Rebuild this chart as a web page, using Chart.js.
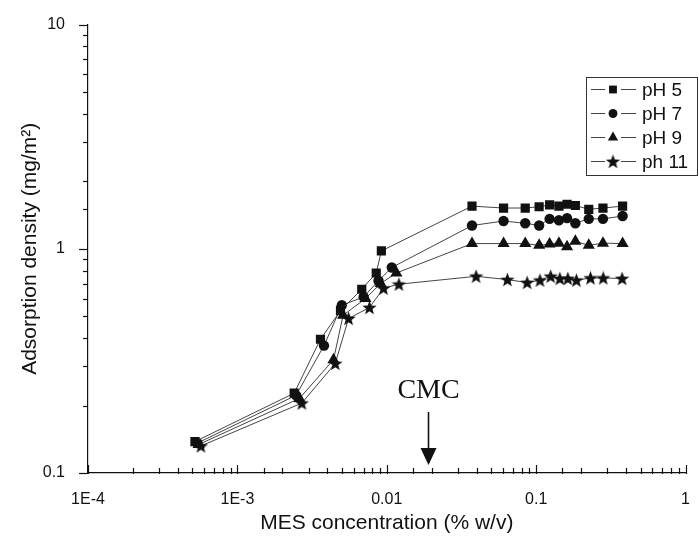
<!DOCTYPE html>
<html>
<head>
<meta charset="utf-8">
<script src="https://cdn.jsdelivr.net/npm/chart.js@4.4.1/dist/chart.umd.min.js"></script>
<style>
  html, body { margin: 0; padding: 0; background: #fff; }
  #wrap { width: 699px; height: 542px; }
</style>
</head>
<body>
<div id="wrap"><canvas id="adsChart" width="699" height="542"></canvas></div>
<script>
const seriesNames = ['pH 5', 'pH 7', 'pH 9', 'ph 11'];

// MES concentration (% w/v) and adsorption density (mg/m2)
const ph5X = [0.00052, 0.0024, 0.0036, 0.0049, 0.0068, 0.0085, 0.0092, 0.0372, 0.0605, 0.0845, 0.1047, 0.123, 0.142, 0.161, 0.183, 0.225, 0.280, 0.379];
const ph5Y = [0.138, 0.227, 0.395, 0.53, 0.66, 0.78, 0.978, 1.55, 1.52, 1.52, 1.54, 1.57, 1.55, 1.58, 1.56, 1.50, 1.52, 1.55];

const ph7X = [0.00054, 0.00247, 0.0038, 0.0050, 0.0070, 0.0088, 0.0108, 0.0372, 0.0605, 0.0845, 0.1047, 0.123, 0.142, 0.161, 0.183, 0.225, 0.280, 0.379];
const ph7Y = [0.136, 0.222, 0.37, 0.56, 0.61, 0.72, 0.825, 1.27, 1.33, 1.30, 1.27, 1.36, 1.34, 1.37, 1.30, 1.36, 1.36, 1.40];

const ph9X = [0.00055, 0.0026, 0.0044, 0.0051, 0.0072, 0.0091, 0.0116, 0.0372, 0.0605, 0.0845, 0.1047, 0.123, 0.142, 0.161, 0.183, 0.225, 0.280, 0.379];
const ph9Y = [0.134, 0.215, 0.32, 0.505, 0.60, 0.70, 0.78, 1.055, 1.055, 1.055, 1.036, 1.05, 1.06, 1.02, 1.08, 1.036, 1.06, 1.055];

const ph11X = [0.00057, 0.0027, 0.00452, 0.00555, 0.00766, 0.0095, 0.01206, 0.0396, 0.0642, 0.087, 0.106, 0.125, 0.144, 0.163, 0.186, 0.231, 0.281, 0.376];
const ph11Y = [0.132, 0.205, 0.308, 0.489, 0.547, 0.667, 0.695, 0.754, 0.729, 0.707, 0.724, 0.754, 0.737, 0.737, 0.724, 0.741, 0.741, 0.737];

const xTickValues = [1e-4, 1e-3, 0.01, 0.1, 1];
const xTickLabels = ['1E-4', '1E-3', '0.01', '0.1', '1'];
const yTickValues = [0.1, 1, 10];
const yTickLabels = ['0.1', '1', '10'];

const cmcValue = 0.019;      // x of the CMC arrow
const cmcTextY = 0.216;      // baseline of "CMC"
const cmcArrowTop = 0.187;
const cmcArrowTip = 0.1085;

const FONT = '"Liberation Sans", Arial, Helvetica, sans-serif';
const INK = '#111';

function zip(xs, ys) { return xs.map((x, i) => ({ x: x, y: ys[i] })); }
function isDecade(v) { const l = Math.log10(v); return Math.abs(l - Math.round(l)) < 1e-6; }
function labelFor(v, vals, labels) {
    const i = vals.findIndex(t => Math.abs(Math.log10(t) - Math.log10(v)) < 1e-6);
    return i >= 0 ? labels[i] : '';
}

// filled five point star used as marker
function makeStar(size) {
    const c = document.createElement('canvas');
    c.width = size; c.height = size;
    const g = c.getContext('2d');
    const cx = size / 2, cy = size / 2 + 0.6, ro = size / 2, ri = size / 2 * 0.42;
    g.beginPath();
    for (let k = 0; k < 10; k++) {
        const r = k % 2 === 0 ? ro : ri;
        const a = -Math.PI / 2 + k * Math.PI / 5;
        const px = cx + r * Math.cos(a), py = cy + r * Math.sin(a);
        if (k === 0) g.moveTo(px, py); else g.lineTo(px, py);
    }
    g.closePath();
    g.fillStyle = INK;
    g.fill();
    return c;
}
const starMark = makeStar(15);

function series(label, xs, ys, style, radius) {
    return {
        label: label,
        data: zip(xs, ys),
        showLine: true,
        borderColor: '#444',
        borderWidth: 1,
        pointStyle: style,
        pointRadius: radius,
        pointHoverRadius: radius,
        pointBackgroundColor: INK,
        pointBorderColor: INK,
        pointBorderWidth: 0
    };
}

const tickMarks = {
    id: 'tickMarks',
    afterDraw(chart) {
        const { ctx, scales: { x, y } } = chart;
        ctx.save();
        ctx.strokeStyle = INK;
        ctx.lineWidth = 1.2;
        x.ticks.forEach(t => {
            const px = Math.round(x.getPixelForValue(t.value)) + 0.5;
            const len = isDecade(t.value) ? 8 : 5;
            ctx.beginPath(); ctx.moveTo(px, x.top + 1); ctx.lineTo(px, x.top - len); ctx.stroke();
        });
        y.ticks.forEach(t => {
            const py = Math.round(y.getPixelForValue(t.value)) + 0.5;
            const len = isDecade(t.value) ? 9 : 5;
            ctx.beginPath(); ctx.moveTo(y.right, py); ctx.lineTo(y.right - len, py); ctx.stroke();
        });
        ctx.restore();
    }
};

const cmcNote = {
    id: 'cmcNote',
    afterDatasetsDraw(chart) {
        const { ctx, scales: { x, y } } = chart;
        const px = Math.round(x.getPixelForValue(cmcValue)) + 0.5;
        const top = y.getPixelForValue(cmcArrowTop);
        const tip = y.getPixelForValue(cmcArrowTip);
        ctx.save();
        ctx.fillStyle = INK;
        ctx.strokeStyle = INK;
        ctx.font = '28px "Liberation Serif", "Times New Roman", serif';
        ctx.textAlign = 'center';
        ctx.textBaseline = 'alphabetic';
        ctx.fillText('CMC', px, y.getPixelForValue(cmcTextY));
        ctx.lineWidth = 1.6;
        ctx.beginPath(); ctx.moveTo(px, top); ctx.lineTo(px, tip - 14); ctx.stroke();
        ctx.beginPath();
        ctx.moveTo(px - 8, tip - 17); ctx.lineTo(px + 8, tip - 17); ctx.lineTo(px, tip);
        ctx.closePath(); ctx.fill();
        ctx.restore();
    }
};

const boxLegend = {
    id: 'boxLegend',
    afterDraw(chart) {
        const ctx = chart.ctx;
        const left = 586, top = 77, w = 111, h = 98, row = 24;
        ctx.save();
        ctx.strokeStyle = '#333';
        ctx.lineWidth = 1;
        ctx.strokeRect(left + 0.5, top + 0.5, w, h);
        ctx.font = '19px ' + FONT;
        ctx.textBaseline = 'middle';
        ctx.textAlign = 'left';
        chart.data.datasets.forEach((ds, i) => {
            const cy = top + 12.5 + row * i;
            const mx = left + 27;
            ctx.strokeStyle = '#444';
            ctx.beginPath();
            ctx.moveTo(left + 5, cy); ctx.lineTo(mx - 8, cy);
            ctx.moveTo(mx + 8, cy); ctx.lineTo(left + 50, cy);
            ctx.stroke();
            ctx.fillStyle = INK;
            Chart.helpers.drawPoint(ctx, { pointStyle: ds.pointStyle, radius: ds.pointRadius * 0.85, rotation: 0, borderWidth: 0 }, mx, cy);
            ctx.fillStyle = INK;
            ctx.fillText(ds.label, left + 56, cy + 1);
        });
        ctx.restore();
    }
};

Chart.defaults.font.family = FONT;
Chart.defaults.color = INK;

const ctx = document.getElementById('adsChart').getContext('2d');
const chart = new Chart(ctx, {
    type: 'scatter',
    data: {
        datasets: [
            series(seriesNames[0], ph5X, ph5Y, 'rect', 6.5),
            series(seriesNames[1], ph7X, ph7Y, 'circle', 5.2),
            series(seriesNames[2], ph9X, ph9Y, 'triangle', 7),
            series(seriesNames[3], ph11X, ph11Y, starMark, 7)
        ]
    },
    options: {
        responsive: false,
        animation: false,
        layout: { padding: { top: 24, right: 10, left: 0, bottom: 0 } },
        plugins: { legend: { display: false }, tooltip: { enabled: false } },
        scales: {
            x: {
                type: 'logarithmic',
                position: 'bottom',
                min: 1e-4,
                max: 1,
                grid: { display: false },
                border: { display: true, color: INK, width: 1.2 },
                ticks: {
                    autoSkip: false,
                    maxRotation: 0,
                    padding: 9,
                    color: INK,
                    font: { size: 16 },
                    callback: v => labelFor(v, xTickValues, xTickLabels)
                },
                title: {
                    display: true,
                    text: 'MES concentration (% w/v)',
                    color: INK,
                    font: { size: 21 },
                    padding: { top: 0, bottom: 6 }
                },
                afterFit: s => { s.height = 69; }
            },
            y: {
                type: 'logarithmic',
                position: 'left',
                min: 0.1,
                max: 10,
                grid: { display: false },
                border: { display: true, color: INK, width: 1.2 },
                ticks: {
                    autoSkip: false,
                    padding: 15,
                    color: INK,
                    font: { size: 16 },
                    callback: v => labelFor(v, yTickValues, yTickLabels)
                },
                title: {
                    display: true,
                    text: 'Adsorption density (mg/m²)',
                    color: INK,
                    font: { size: 21 },
                    padding: { top: 18, bottom: 0 }
                },
                afterFit: s => { s.width = 88; }
            }
        }
    },
    plugins: [tickMarks, cmcNote, boxLegend]
});
</script>
</body>
</html>
